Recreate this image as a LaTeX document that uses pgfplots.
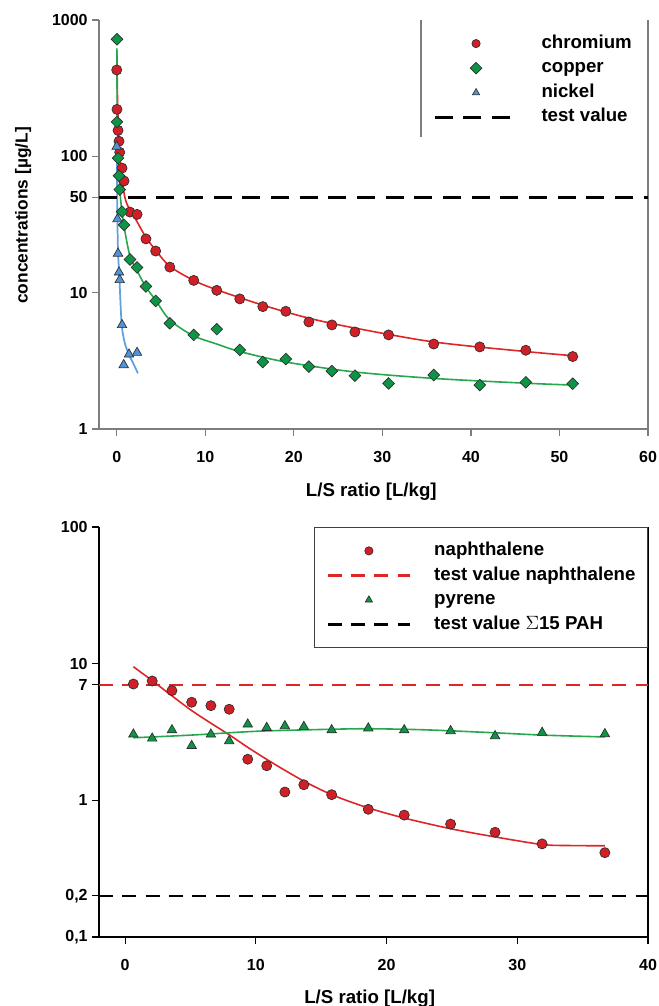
\documentclass[border=0pt]{standalone}
\usepackage{fontspec}
\setmainfont{Liberation Sans}
\usepackage{pgfplots}
\usepackage{pgfplotstable}
\pgfplotsset{compat=1.18}

\definecolor{crred}{RGB}{210,30,38}
\definecolor{cugreen}{RGB}{14,148,70}
\definecolor{niblue}{RGB}{80,148,215}
\definecolor{fitred}{RGB}{222,38,38}
\definecolor{fitgreen}{RGB}{38,168,78}
\definecolor{fitblue}{RGB}{96,160,222}
\definecolor{axgray}{RGB}{125,125,125}
\definecolor{mkedge}{RGB}{45,45,45}

% measured points
\pgfplotstableread{
x y
0.00 430
0.03 221
0.15 155
0.26 129
0.34 107
0.60 82
0.83 66
1.50 39
2.30 37.5
3.30 24.8
4.40 20.2
6.00 15.4
8.70 12.3
11.3 10.4
13.9 9.0
16.5 7.9
19.1 7.3
21.7 6.1
24.3 5.8
26.9 5.15
30.7 4.9
35.8 4.2
41.0 4.0
46.2 3.78
51.5 3.4
}\chromium

\pgfplotstableread{
x y
0.03 723
0.03 179
0.15 97
0.26 72
0.34 57
0.60 39.3
0.83 31.4
1.50 17.5
2.30 15.3
3.30 11.1
4.40 8.7
6.00 5.96
8.70 4.9
11.3 5.4
13.9 3.8
16.5 3.1
19.1 3.26
21.7 2.87
24.3 2.66
26.9 2.46
30.7 2.16
35.8 2.49
41.0 2.1
46.2 2.2
51.5 2.15
}\copper

\pgfplotstableread{
x y
0.00 118
0.08 34.6
0.15 19.4
0.26 14.1
0.34 12.4
0.60 5.8
0.79 2.95
1.39 3.53
2.30 3.63
}\nickel

\pgfplotstableread{
x y
0.63 7.1
2.07 7.47
3.58 6.35
5.09 5.22
6.56 4.93
7.96 4.64
9.38 2.0
10.83 1.79
12.22 1.15
13.67 1.30
15.8 1.10
18.6 0.86
21.35 0.78
24.9 0.67
28.3 0.584
31.9 0.48
36.7 0.414
}\naphthalene

\pgfplotstableread{
x y
0.63 3.04
2.07 2.84
3.58 3.27
5.09 2.51
6.56 3.04
7.96 2.72
9.38 3.60
10.83 3.40
12.22 3.50
13.67 3.46
15.8 3.27
18.6 3.37
21.35 3.27
24.9 3.22
28.3 2.96
31.9 3.13
36.7 3.06
}\pyrene

\pgfplotsset{
  legend image code/.code={
    \draw[mark repeat=2, mark phase=2, #1]
      plot coordinates {(0pt,0pt) (31pt,0pt) (62pt,0pt)};
    \path (0pt,0pt) (79pt,0pt);
  },
  every axis/.append style={
    scale only axis,
    width=411.75pt,
    xmin=-2,
    axis x line*=bottom,
    axis y line*=box,
    ytick pos=left,
    tick align=outside,
    major tick length=5pt,
    /pgf/number format/assume math mode=true,
    tick label style={font=\bfseries\fontsize{12}{14}\selectfont},
    xticklabel style={yshift=-8pt},
    xlabel style={font=\bfseries\fontsize{14}{16}\selectfont},
    ylabel style={font=\bfseries\fontsize{13}{15}\selectfont},
    legend style={font=\bfseries\fontsize{14}{16}\selectfont,
      inner xsep=9pt, inner ysep=11pt, row sep=5.4pt,
      nodes={inner sep=0pt, text height=10pt, text depth=3pt}},
    legend cell align=left,
    legend image post style={mark size=3.1pt},
  },
}

\begin{document}
\begin{tikzpicture}
% ---- metals ----
\begin{axis}[at={(0pt,0pt)}, anchor=north west,
  height=306.75pt, xmax=60, ymode=log, ymin=1, ymax=1000,
  xtick={0,10,...,60},
  ytick={1,10,50,100,1000}, yticklabels={1,10,50,100,1000},
  yminorticks=false,
  axis line style={axgray, line width=1.1pt},
  major tick style={axgray, line width=1pt},
  xlabel={L/S ratio [L/kg]},
  ylabel={concentrations [µg/L]},
  xlabel style={at={(axis description cs:0.496,-0.154)}, anchor=center},
  ylabel style={at={(axis description cs:-0.138,0.522)}, anchor=center},
  legend style={draw=none, fill=none, at={(rel axis cs:0.5865,1)}, anchor=north west},
]
\addplot[fitred, line width=1.2pt, smooth, tension=0.5, forget plot] coordinates {
  (0.02,600) (0.1,250) (0.3,115) (0.5,80) (0.8,55) (1.2,44) (2.2,34) (3.3,25.5)
  (4.4,20.5) (6,15.6) (8.7,12.3) (11.3,10.5) (16.5,8.1) (21.7,6.5) (26.9,5.5)
  (35.8,4.35) (46.2,3.7) (51.5,3.45)};
\addplot[fitgreen, line width=1.2pt, smooth, tension=0.5, forget plot] coordinates {
  (0.01,620) (0.05,250) (0.1,150) (0.25,80) (0.4,52) (0.6,39) (0.85,30) (1.5,18.5)
  (2.3,14.5) (3.3,11) (4.4,8.8) (6,6.3) (8.6,4.85) (11.3,4.2) (13.9,3.7) (19.1,3.1)
  (26.9,2.62) (35.8,2.35) (46,2.17) (51.5,2.1)};
\addplot[fitblue, line width=1.3pt, smooth, tension=0.5, forget plot] coordinates {
  (0,125) (0.08,35) (0.15,20) (0.3,13) (0.55,6) (0.9,4.3) (1.4,3.5) (1.9,3.0) (2.4,2.56)};

\addplot[only marks, draw=none, mark=*, mark size=3.8pt,
  mark options={fill=crred, draw=mkedge, line width=0.5pt}] table {\chromium};
\addlegendentry{chromium}
\addplot[only marks, draw=none, mark=square*, mark size=3.1pt,
  mark options={rotate=45, fill=cugreen, draw=mkedge, line width=0.5pt}] table {\copper};
\addlegendentry{copper}
\addplot[only marks, draw=none, mark=triangle*, mark size=4.1pt,
  mark options={fill=niblue, draw=mkedge, line width=0.5pt}] table {\nickel};
\addlegendentry{nickel}
\addplot[black, line width=2.2pt, dash pattern=on 13.5pt off 8pt] coordinates {(-2,50) (60,50)};
\addlegendentry{test value}

\draw[axgray, line width=1pt] (rel axis cs:0.5865,1) -- (rel axis cs:0.5865,0.714);
\end{axis}

% ---- PAH ----
\begin{axis}[at={(0pt,-380.25pt)}, anchor=north west,
  height=307.5pt, xmax=40, ymode=log, ymin=0.1, ymax=100,
  xtick={0,10,...,40},
  ytick={0.1,0.2,1,7,10,100}, yticklabels={{0,1},{0,2},1,7,10,100},
  yminorticks=false,
  axis line style={black, line width=1pt},
  major tick style={black, line width=0.9pt},
  xlabel={L/S ratio [L/kg]},
  xlabel style={at={(axis description cs:0.493,-0.15)}, anchor=center},
  legend style={draw=black!75, line width=0.8pt, fill=white,
    at={(rel axis cs:1,1)}, anchor=north east},
]
\addplot[fitred, line width=1.2pt, smooth, forget plot] coordinates {
  (0.63,9.5) (2,7.6) (3.5,5.9) (5,4.6) (6.5,3.7) (8,3.0) (9.5,2.4) (11,1.95)
  (12.5,1.6) (14,1.33) (16,1.08) (18.6,0.88) (21.4,0.74) (24.9,0.62) (28.3,0.54)
  (31.9,0.475) (34,0.467) (36.7,0.465)};
\addplot[fitgreen, line width=1.2pt, smooth, forget plot] coordinates {
  (0.63,2.87) (5,3.0) (10,3.2) (15,3.3) (18.6,3.34) (23,3.28) (28.3,3.12) (32,3.0) (36.7,2.91)};

\addplot[only marks, draw=none, mark=*, mark size=3.8pt,
  mark options={fill=crred, draw=mkedge, line width=0.5pt}] table {\naphthalene};
\addlegendentry{naphthalene}
\addplot[fitred, line width=1.8pt, dash pattern=on 10.5pt off 7pt] coordinates {(-2,7) (40,7)};
\addlegendentry{test value naphthalene}
\addplot[only marks, draw=none, mark=triangle*, mark size=4.1pt,
  mark options={fill=cugreen, draw=mkedge, line width=0.5pt}] table {\pyrene};
\addlegendentry{pyrene}
\addplot[black, line width=2pt, dash pattern=on 10.5pt off 7pt] coordinates {(-2,0.2) (40,0.2)};
\addlegendentry{test value $\Sigma$15 PAH}
\end{axis}

\pgfresetboundingbox
\path[use as bounding box] (-74.25pt,-739.5pt) rectangle (420pt,15pt);
\end{tikzpicture}
\end{document}
